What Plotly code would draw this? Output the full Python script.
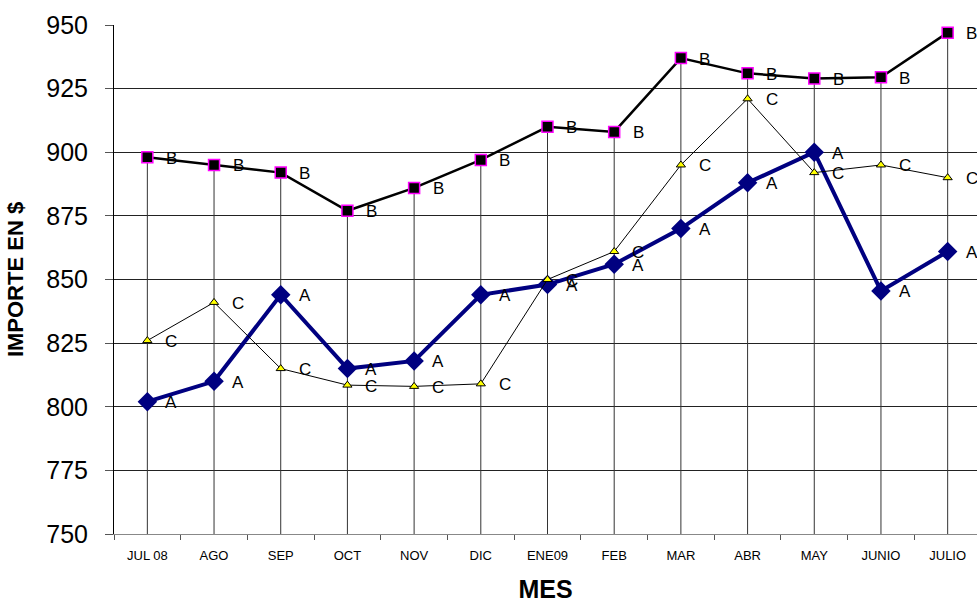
import plotly.graph_objects as go

meses = ["JUL 08", "AGO", "SEP", "OCT", "NOV", "DIC", "ENE09", "FEB",
         "MAR", "ABR", "MAY", "JUNIO", "JULIO"]
serie_a = [802, 810, 844, 815, 818, 844, 848, 856, 870, 888, 900, 845.5, 861]
serie_b = [898, 895, 892, 877, 886, 897, 910, 908, 937, 931, 929, 929.5, 947]
serie_c = [826, 841, 815, 808.5, 808, 809, 850, 861, 895, 921, 892, 895, 890]
y_ticks = [750, 775, 800, 825, 850, 875, 900, 925, 950]

base = y_ticks[0]
fig = go.Figure()

# drop lines from the highest value of each month down to the axis
dx, dy = [], []
for i, m in enumerate(meses):
    top = max(serie_a[i], serie_b[i], serie_c[i])
    dx += [m, m, None]
    dy += [top, base, None]
fig.add_trace(go.Scatter(x=dx, y=dy, mode="lines",
                         line=dict(color="#333333", width=1),
                         hoverinfo="skip", showlegend=False))

font_lbl = dict(family="Liberation Sans, Arial", size=17, color="black")

fig.add_trace(go.Scatter(
    x=meses, y=serie_b, mode="lines+markers", name="B",
    line=dict(color="black", width=2.5),
    marker=dict(symbol="square", size=11, color="black",
                line=dict(color="#FF00FF", width=1.5))))
fig.add_trace(go.Scatter(
    x=meses, y=serie_a, mode="lines+markers", name="A",
    line=dict(color="#000080", width=4),
    marker=dict(symbol="diamond", size=15, color="#000080")))
fig.add_trace(go.Scatter(
    x=meses, y=serie_c, mode="lines+markers", name="C",
    line=dict(color="black", width=1),
    marker=dict(symbol="triangle-up", size=8, color="#FFFF00",
                line=dict(color="black", width=1))))

# series letters beside each point
for vals, letter in ((serie_b, "B"), (serie_a, "A"), (serie_c, "C")):
    for m, v in zip(meses, vals):
        fig.add_annotation(x=m, y=v, text=letter, showarrow=False,
                           xanchor="center", yanchor="middle",
                           xshift=24, yshift=-1, font=font_lbl)

fig.update_layout(
    width=977, height=604,
    margin=dict(l=114, r=0, t=25, b=70),
    paper_bgcolor="white", plot_bgcolor="white",
    showlegend=False,
    xaxis=dict(
        type="category", categoryorder="array", categoryarray=meses,
        range=[-0.5, 12.44], showgrid=False, zeroline=False,
        showline=True, linecolor="#888888", linewidth=1,
        ticks="outside", tickson="boundaries", ticklen=5,
        tickcolor="#555555", ticklabelstandoff=9,
        tickfont=dict(family="Liberation Sans, Arial", size=13, color="black"),
        title=dict(text="<b>MES</b>", standoff=18,
                   font=dict(family="Liberation Sans, Arial", size=25, color="black")),
    ),
    yaxis=dict(
        range=[750, 950], tickvals=y_ticks, showgrid=True,
        gridcolor="#222222", gridwidth=1, zeroline=False,
        showline=True, linecolor="black", linewidth=1,
        ticks="outside", ticklen=8, tickcolor="#555555",
        ticklabelstandoff=12,
        tickfont=dict(family="Liberation Sans, Arial", size=25, color="black"),
        title=dict(text="<b>IMPORTE EN $</b>", standoff=16,
                   font=dict(family="Liberation Sans, Arial", size=22, color="black")),
    ),
)

fig.write_html("out.html")
